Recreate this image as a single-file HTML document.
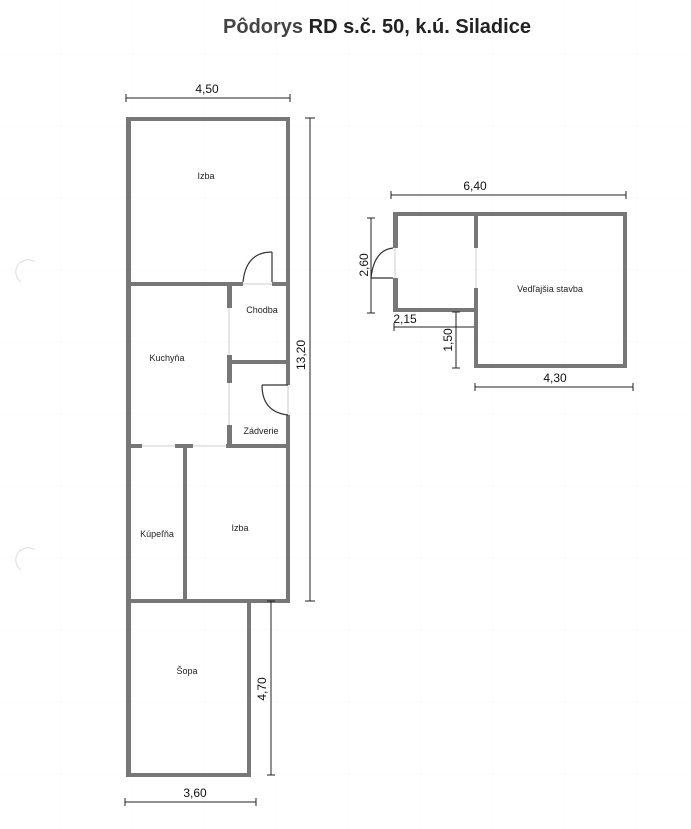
<!DOCTYPE html>
<html><head><meta charset="utf-8"><style>
html,body{margin:0;padding:0;background:#fff;}
svg{display:block;}
text{font-family:"Liberation Sans",sans-serif;}
</style></head><body>
<svg width="691" height="829" viewBox="0 0 691 829" xmlns="http://www.w3.org/2000/svg">
<defs>
<pattern id="g" x="60" y="53" width="72" height="72" patternUnits="userSpaceOnUse">
<path d="M0 0H72M0 0V72" stroke="#f7f7f7" stroke-width="1" fill="none"/>
</pattern>
</defs>
<rect width="691" height="829" fill="url(#g)"/>
<path d="M35 262 A12 12 0 0 0 21 282" stroke="#ddd" fill="none"/>
<path d="M35 550 A12 12 0 0 0 21 570" stroke="#ddd" fill="none"/>

<text x="377" y="33" text-anchor="middle" font-size="20" font-weight="bold" fill="#222"><tspan fill="#444">Pôdorys</tspan> RD s.č. 50, k.ú. Siladice</text>

<g fill="#777">
<rect x="126" y="117" width="164" height="4"/>
<rect x="126" y="117" width="5" height="486"/>
<rect x="286" y="117" width="4" height="268"/>
<rect x="286" y="415" width="4" height="188"/>
<rect x="126" y="599" width="164" height="4"/>
<rect x="126" y="282" width="117" height="4"/>
<rect x="272" y="282" width="18" height="4"/>
<rect x="227" y="282" width="5" height="26"/>
<rect x="227" y="355" width="5" height="28"/>
<rect x="227" y="425" width="5" height="22"/>
<rect x="227" y="360" width="63" height="4"/>
<rect x="126" y="444" width="16" height="4"/>
<rect x="175" y="444" width="18" height="4"/>
<rect x="226" y="444" width="64" height="4"/>
<rect x="183" y="444" width="4" height="159"/>
<rect x="126" y="599" width="5" height="178"/>
<rect x="247" y="599" width="4" height="178"/>
<rect x="126" y="773" width="125" height="4"/>
<rect x="393" y="212" width="234" height="4"/>
<rect x="393" y="212" width="5" height="36"/>
<rect x="393" y="278" width="5" height="34"/>
<rect x="393" y="308" width="85" height="4"/>
<rect x="474" y="212" width="4" height="36"/>
<rect x="474" y="288" width="4" height="80"/>
<rect x="623" y="212" width="4" height="156"/>
<rect x="474" y="364" width="153" height="4"/>
</g>
<g stroke="#ccc" stroke-width="1">
<line x1="243" y1="284" x2="272" y2="284"/>
<line x1="229" y1="308" x2="229" y2="355"/>
<line x1="229" y1="383" x2="229" y2="425"/>
<line x1="142" y1="446" x2="175" y2="446"/>
<line x1="193" y1="446" x2="226" y2="446"/>
<line x1="288" y1="385" x2="288" y2="415"/>
<line x1="395" y1="248" x2="395" y2="278"/>
<line x1="476" y1="248" x2="476" y2="288"/>
</g>
<g stroke="#333" stroke-width="1.2" fill="none">
<line x1="272" y1="252" x2="272" y2="282"/>
<path d="M272 252 Q246 252 243 282"/>
<line x1="288" y1="385" x2="262" y2="385"/>
<path d="M262 385 Q262 412 288 415"/>
<line x1="393" y1="278" x2="371" y2="278"/>
<path d="M393 248 Q374 250 371 278"/>
</g>
<g stroke="#222" stroke-width="1" fill="none">
<line x1="126" y1="98" x2="290" y2="98"/><line x1="126" y1="94" x2="126" y2="102"/><line x1="290" y1="94" x2="290" y2="102"/>
<line x1="310" y1="118" x2="310" y2="601"/><line x1="305" y1="118" x2="315" y2="118"/><line x1="305" y1="601" x2="315" y2="601"/>
<line x1="271" y1="601" x2="271" y2="775"/><line x1="267" y1="601" x2="275" y2="601"/><line x1="267" y1="775" x2="275" y2="775"/>
<line x1="125" y1="802" x2="256" y2="802"/><line x1="125" y1="798" x2="125" y2="806"/><line x1="256" y1="798" x2="256" y2="806"/>
<line x1="391" y1="195" x2="626" y2="195"/><line x1="391" y1="191" x2="391" y2="199"/><line x1="626" y1="191" x2="626" y2="199"/>
<line x1="371" y1="218" x2="371" y2="313"/><line x1="367" y1="218" x2="375" y2="218"/><line x1="367" y1="313" x2="375" y2="313"/>
<line x1="394" y1="327" x2="474" y2="327"/><line x1="394" y1="323" x2="394" y2="331"/>
<line x1="456" y1="312" x2="456" y2="368"/><line x1="452" y1="312" x2="460" y2="312"/><line x1="452" y1="368" x2="460" y2="368"/>
<line x1="475" y1="387" x2="633" y2="387"/><line x1="475" y1="383" x2="475" y2="391"/><line x1="633" y1="383" x2="633" y2="391"/>
</g>
<g font-size="12" fill="#111" text-anchor="middle">
<text x="207" y="93">4,50</text>
<text x="195" y="797">3,60</text>
<text x="475" y="190">6,40</text>
<text x="405" y="323">2,15</text>
<text x="555" y="382">4,30</text>
<text transform="translate(305,355) rotate(-90)">13,20</text>
<text transform="translate(266,689) rotate(-90)">4,70</text>
<text transform="translate(368,265) rotate(-90)">2,60</text>
<text transform="translate(452,340) rotate(-90)">1,50</text>
</g>
<g font-size="9" fill="#222" text-anchor="middle">
<text x="206" y="179">Izba</text>
<text x="262" y="313">Chodba</text>
<text x="167" y="361">Kuchyňa</text>
<text x="261" y="434">Zádverie</text>
<text x="157" y="537">Kúpeľňa</text>
<text x="240" y="531">Izba</text>
<text x="187" y="674">Šopa</text>
<text x="550" y="292">Vedľajšia stavba</text>
</g>
</svg>
</body></html>
